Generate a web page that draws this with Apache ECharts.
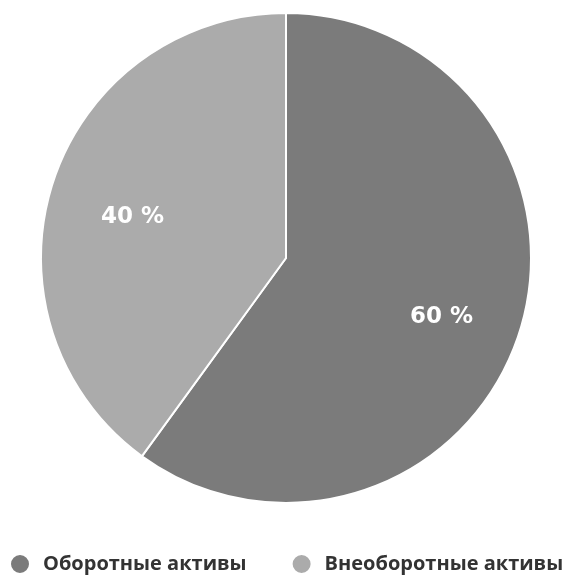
<!DOCTYPE html>
<html>
<head>
<meta charset="utf-8">
<script src="https://cdn.jsdelivr.net/npm/echarts@6/dist/echarts.min.js"></script>
<style>
  html, body { margin: 0; padding: 0; background: #ffffff; }
  #chart { width: 565px; height: 575px; }
</style>
</head>
<body>
<div id="chart"></div>
<script>
// Asset structure shares, percent
const categories = ['Оборотные активы', 'Внеоборотные активы'];
const shares = [60, 40];
const colors = ['#7b7b7b', '#ababab'];

const chart = echarts.init(document.getElementById('chart'));

const pieData = categories.map((name, i) => ({
  name: name,
  value: shares[i],
  itemStyle: { color: colors[i] }
}));

chart.setOption({
  animation: false,
  legend: {
    top: 553,
    left: 9,
    width: 556,
    padding: 0,
    icon: 'circle',
    itemWidth: 20,
    itemHeight: 20,
    itemGap: 44,
    textStyle: {
      fontFamily: 'Open Sans',
      fontWeight: 'bold',
      fontSize: 20,
      color: '#333333',
      padding: [0, 0, 0, 8]
    },
    data: categories
  },
  series: [
    {
      type: 'pie',
      center: [286, 258],
      radius: [0, 245],
      startAngle: 90,
      clockwise: true,
      label: { show: false },
      labelLine: { show: false },
      itemStyle: { borderColor: '#ffffff', borderWidth: 2 },
      emphasis: { disabled: true },
      data: pieData
    },
    {
      // transparent ring used only to place the percentage labels
      type: 'pie',
      center: [286, 258],
      radius: [74, 245],
      startAngle: 90,
      clockwise: true,
      silent: true,
      legendHoverLink: false,
      itemStyle: { color: 'transparent', borderWidth: 0 },
      label: {
        show: true,
        position: 'inside',
        formatter: '{c} %',
        color: '#ffffff',
        fontFamily: 'DejaVu Sans',
        fontWeight: 'bold',
        fontSize: 23,
        offset: [1, 9]
      },
      labelLine: { show: false },
      emphasis: { disabled: true },
      data: categories.map((name, i) => ({ name: name + ' ', value: shares[i] }))
    }
  ]
});
</script>
</body>
</html>
